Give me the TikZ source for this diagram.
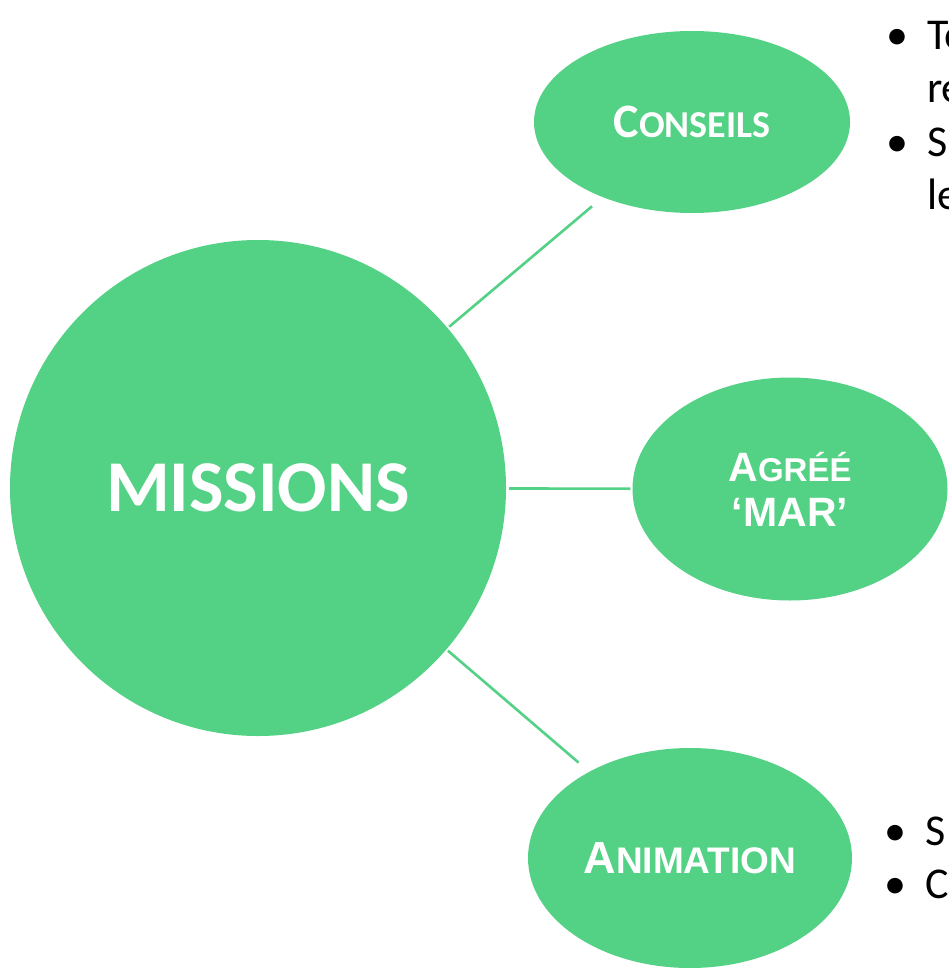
\documentclass[tikz,border=0pt]{standalone}
\usepackage{fontspec}
\setmainfont{Carlito}
\newfontfamily\arialfont{Liberation Sans}
\usetikzlibrary{shapes.geometric}

\definecolor{mgreen}{RGB}{83,209,133}

\newcommand{\bitem}[1]{\makebox[41pt][l]{\textbullet}#1}

\begin{document}
\begin{tikzpicture}[x=1pt,y=-1pt,
  bubble/.style={fill=mgreen,draw=none,inner sep=0pt,text=white,align=center},
  link/.style={draw=mgreen,line width=2.6pt},
  tip/.style={anchor=base west,inner sep=0pt,font=\fontsize{44}{53}\selectfont}]
\clip (0,0) rectangle (948,968);

\node[bubble,circle,minimum size=496pt] (missions) at (258,488)
  {\fontsize{73}{73}\selectfont\bfseries MISSIONS};
\node[bubble,ellipse,minimum width=316pt,minimum height=182pt] (conseils) at (692,122)
  {\bfseries{\fontsize{48}{48}\selectfont C}{\fontsize{38}{38}\selectfont ONSEILS}};
\node[bubble,ellipse,minimum width=315pt,minimum height=223pt,
  font=\arialfont\bfseries\fontsize{41}{45}\selectfont] (agree) at (790,489)
  {A{\fontsize{33}{45}\selectfont GRÉÉ}\\‘MAR’};
\node[bubble,ellipse,minimum width=324pt,minimum height=220pt] (animation) at (690,858)
  {\arialfont\bfseries{\fontsize{45}{45}\selectfont A}{\fontsize{37}{37}\selectfont NIMATION}};

\draw[link,shorten <=2pt,shorten >=14pt] (missions) -- (conseils);
\draw[link,shorten <=3pt,shorten >=2pt] (missions) -- (agree);
\draw[link,shorten <=2pt,shorten >=14pt] (missions) -- (animation);

% bullet lists beside the small bubbles
\node[tip] (c1) at (886,50) {\bitem{To}};
\node[tip] (c2) at (927,103) {re};
\node[tip] (c3) at (886,157) {\bitem{S}};
\node[tip] (c4) at (927,210) {le};
\node[tip] (a1) at (884,845) {\bitem{S}};
\node[tip] (a2) at (884,898) {\bitem{C}};
\end{tikzpicture}
\end{document}
